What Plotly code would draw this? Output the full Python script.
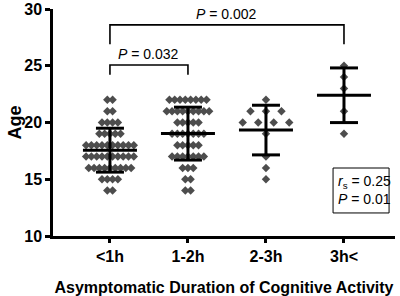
import plotly.graph_objects as go
import numpy as np

# ---------------- data ----------------
groups = ["<1h", "1-2h", "2-3h", "3h<"]
ages = [25, 24, 23, 22, 21, 20, 19, 18, 17, 16, 15, 14]
# number of subjects at each age, per group
counts_lt1h = [0, 0, 0, 2, 2, 4, 5, 10, 10, 9, 4, 2]
counts_1to2h = [0, 0, 0, 8, 9, 5, 7, 5, 7, 3, 2, 2]
counts_2to3h = [0, 0, 0, 1, 3, 4, 1, 0, 1, 1, 1, 0]
counts_gt3h = [1, 1, 1, 0, 1, 0, 1, 0, 0, 0, 0, 0]
all_counts = [counts_lt1h, counts_1to2h, counts_2to3h, counts_gt3h]

comparisons = [  # (group a, group b, label)
    (0, 1, "<i>P</i> = 0.032"),
    (0, 3, "<i>P</i> = 0.002"),
]
stat_text = "<i>r</i><sub>s</sub> = 0.25<br><i>P</i> = 0.01"

# ---------------- layout geometry ----------------
W, H = 400, 296
ml, mr, mt, mb = 53, 5, 9, 60
xr = [-0.73, 3.654]
px_per_unit = (W - ml - mr) / (xr[1] - xr[0])
spread_px = [5.3, 5.3, 15.5, 0.0]   # horizontal spacing of dots in a row
mean_half_px = 27
cap_half_px = 14

DOT = "#4d4d4d"
FONT = "Arial, Liberation Sans, sans-serif"

fig = go.Figure()

for gi, counts in enumerate(all_counts):
    xs, ys, vals = [], [], []
    step = spread_px[gi] / px_per_unit
    for age, c in zip(ages, counts):
        for k in range(c):
            xs.append(gi + (k - (c - 1) / 2) * step)
            ys.append(age)
            vals.append(age)
    fig.add_trace(go.Scatter(
        x=xs, y=ys, mode="markers",
        marker=dict(symbol="diamond", size=6.5, color=DOT, line=dict(width=0)),
        showlegend=False, hoverinfo="y"))
    v = np.array(vals, dtype=float)
    m = v.mean()
    sd = v.std(ddof=1)
    mh = mean_half_px / px_per_unit
    ch = cap_half_px / px_per_unit
    lx = [gi - mh, gi + mh, None, gi - ch, gi + ch, None, gi - ch, gi + ch, None, gi, gi]
    ly = [m, m, None, m + sd, m + sd, None, m - sd, m - sd, None, m - sd, m + sd]
    fig.add_trace(go.Scatter(
        x=lx, y=ly, mode="lines", line=dict(color="black", width=3),
        showlegend=False, hoverinfo="skip"))

# brackets
bracket_levels = [(25.07, 24.2), (28.6, 26.9)]
for (a, b, label), (top, leg) in zip(comparisons, bracket_levels):
    fig.add_trace(go.Scatter(
        x=[a, a, b, b], y=[leg, top, top, leg], mode="lines",
        line=dict(color="black", width=1.6), showlegend=False, hoverinfo="skip"))
    fig.add_annotation(x=(a + b) / 2, y=top, text=label, showarrow=False,
                       yanchor="bottom", yshift=1,
                       font=dict(family=FONT, size=14, color="black"))

# statistics box
box_x0, box_x1, box_y0, box_y1 = 2.86, 3.578, 12.03, 15.99
fig.add_shape(type="rect", x0=box_x0, x1=box_x1, y0=box_y0, y1=box_y1,
              line=dict(color="black", width=1), fillcolor="white", layer="above")
fig.add_annotation(x=box_x0, y=(box_y0 + box_y1) / 2, xanchor="left", yanchor="middle",
                   xshift=3, text=stat_text, showarrow=False, align="left",
                   font=dict(family=FONT, size=14, color="black"))

# y-axis title
fig.add_annotation(xref="paper", yref="paper", x=(14 - ml) / (W - ml - mr), y=0.5,
                   xanchor="center", yanchor="middle", textangle=-90,
                   text="<b>Age</b>", showarrow=False,
                   font=dict(family=FONT, size=18, color="black"))

fig.update_layout(
    width=W, height=H,
    margin=dict(l=ml, r=mr, t=mt, b=mb, autoexpand=False),
    paper_bgcolor="white", plot_bgcolor="white",
    font=dict(family=FONT, color="black"),
    xaxis=dict(
        range=xr, tickmode="array", tickvals=list(range(len(groups))),
        ticktext=[f"<b>{g}</b>" for g in groups],
        showline=True, linecolor="black", linewidth=2.5,
        ticks="outside", ticklen=4, tickwidth=2.5, tickcolor="black",
        showgrid=False, zeroline=False, automargin=False,
        tickfont=dict(family=FONT, size=16, color="black"),
        title=dict(text="<b>Asymptomatic Duration of Cognitive Activity</b>",
                   font=dict(family=FONT, size=16, color="black"), standoff=18),
    ),
    yaxis=dict(
        range=[10, 30], tickvals=[10, 15, 20, 25, 30],
        ticktext=["<b>10</b>", "<b>15</b>", "<b>20</b>", "<b>25</b>", "<b>30</b>"],
        showline=True, linecolor="black", linewidth=2.5,
        ticks="outside", ticklen=5, tickwidth=2.5, tickcolor="black",
        showgrid=False, zeroline=False, automargin=False,
        tickfont=dict(family=FONT, size=16, color="black"),
    ),
)

fig.write_html(
    "out.html",
    config={"displayModeBar": False},
    post_script="document.body.style.margin='0px';document.body.style.overflow='hidden';",
)
